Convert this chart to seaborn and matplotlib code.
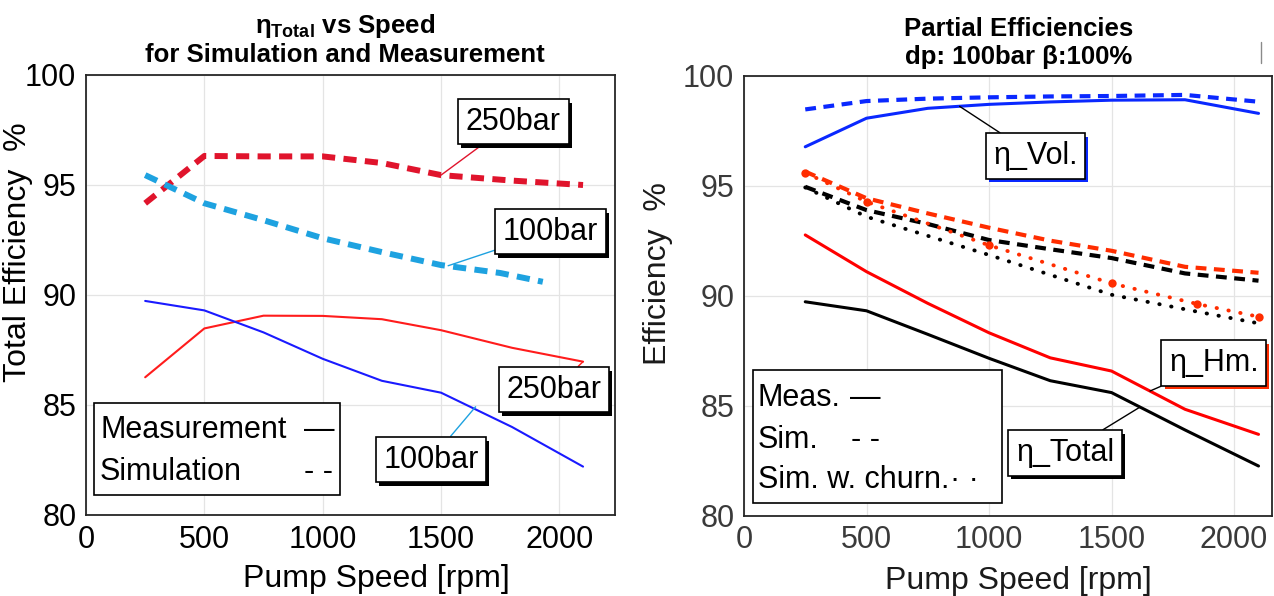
import matplotlib
matplotlib.use("Agg")
import matplotlib.pyplot as plt
import matplotlib.patheffects as pe
from matplotlib.patches import Rectangle
from matplotlib.lines import Line2D
import seaborn as sns

# ---------------- data ----------------
speed_meas = [250, 500, 750, 1000, 1250, 1500, 1800, 2100]
eta_meas_100 = [89.73, 89.30, 88.30, 87.10, 86.10, 85.56, 84.00, 82.20]
eta_meas_250 = [86.26, 88.48, 89.06, 89.05, 88.90, 88.40, 87.60, 86.97]
speed_sim_250 = [250, 500, 750, 1000, 1250, 1500, 1800, 2100]
eta_sim_250 = [94.17, 96.32, 96.30, 96.30, 96.00, 95.45, 95.20, 95.00]
speed_sim_100 = [250, 500, 750, 1000, 1250, 1500, 1750, 1930]
eta_sim_100 = [95.45, 94.17, 93.40, 92.58, 91.95, 91.36, 91.00, 90.60]

speed_part = [250, 500, 750, 1000, 1250, 1500, 1800, 2100]
vol_meas = [96.78, 98.08, 98.53, 98.71, 98.82, 98.90, 98.92, 98.30]
vol_sim = [98.48, 98.86, 98.97, 99.03, 99.07, 99.09, 99.14, 98.83]
hm_meas = [92.77, 91.10, 89.66, 88.32, 87.18, 86.58, 84.84, 83.70]
hm_sim = [95.65, 94.44, 93.75, 93.10, 92.51, 92.05, 91.32, 91.05]
total_meas = [89.73, 89.32, 88.25, 87.16, 86.14, 85.60, 83.90, 82.26]
total_sim = [94.96, 93.90, 93.27, 92.54, 92.12, 91.72, 91.02, 90.69]
speed_churn = [250, 500, 1000, 1500, 1850, 2100]
hm_churn = [95.60, 94.28, 92.30, 90.57, 89.63, 89.05]
total_churn = [94.93, 93.60, 91.86, 90.05, 89.28, 88.75]

x_ticks = [0, 500, 1000, 1500, 2000]
y_ticks = [80, 85, 90, 95, 100]

# ---------------- style ----------------
sns.set_theme(style="whitegrid")
plt.rcParams["font.family"] = ["Liberation Sans", "DejaVu Sans"]
plt.rcParams["mathtext.fontset"] = "custom"
plt.rcParams["mathtext.rm"] = "Liberation Sans:bold"
plt.rcParams["mathtext.bf"] = "Liberation Sans:bold"
plt.rcParams["mathtext.it"] = "Liberation Sans:bold"

fig = plt.figure(figsize=(12.74, 5.96), dpi=100)
axL = fig.add_axes([86 / 1274, 1 - 515 / 596, 529 / 1274, 440 / 596])
axR = fig.add_axes([744 / 1274, 1 - 515.7 / 596, 528 / 1274, 439.7 / 596])

TICK_FS = 22
LAB_FS = 23
TITLE_FS = 18.5


def style_axes(ax, xmax, tickcolor):
    ax.set_xlim(0, xmax)
    ax.set_ylim(80, 100)
    ax.set_xticks(x_ticks)
    ax.set_yticks(y_ticks)
    ax.grid(True, color="#e4e4e4", lw=0.9)
    ax.tick_params(length=0, labelsize=TICK_FS, colors=tickcolor, pad=7)
    for s in ax.spines.values():
        s.set_visible(True)
        s.set_color("#262626")
        s.set_linewidth(1.3)
    ax.set_facecolor("white")


# ---------------- left panel ----------------
dash_thick = (0, (2.2, 1.4))
sns.lineplot(x=speed_sim_250, y=eta_sim_250, ax=axL, color="#e0142c", lw=4.3,
             linestyle=dash_thick, dash_capstyle="butt")
sns.lineplot(x=speed_sim_100, y=eta_sim_100, ax=axL, color="#1ea2e0", lw=4.3,
             linestyle=dash_thick, dash_capstyle="butt")
sns.lineplot(x=speed_meas, y=eta_meas_250, ax=axL, color="#ff1c1c", lw=1.5)
sns.lineplot(x=speed_meas, y=eta_meas_100, ax=axL, color="#1a1aff", lw=1.5)
style_axes(axL, 2235, "black")

axL.set_title(r"$\mathrm{η}_{\mathrm{Total}}$ vs Speed" + "\nfor Simulation and Measurement",
              fontsize=TITLE_FS, fontweight="bold", x=0.49, pad=9, linespacing=1.2,
              color="black")
axL.set_xlabel("Pump Speed [rpm]", fontsize=LAB_FS, color="black")
axL.set_ylabel("Total Efficiency  %", fontsize=LAB_FS, color="black")
axL.xaxis.set_label_coords(0.548, -0.112)
axL.yaxis.set_label_coords(-0.10, 0.598)


def boxed(ax, label, xy, xytext, linecolor, shadow):
    t = ax.annotate(label, xy=xy, xycoords="data", xytext=xytext,
                    textcoords="axes fraction", ha="center", va="center",
                    fontsize=22, color="black", zorder=8,
                    bbox=dict(boxstyle="square,pad=0.25", fc="white", ec="black", lw=1.2),
                    arrowprops=dict(arrowstyle="-", color=linecolor, lw=1.0,
                                    shrinkA=0, shrinkB=0))
    t.get_bbox_patch().set_path_effects([
        pe.SimplePatchShadow(offset=(2.2, -2.6), shadow_rgbFace=shadow, alpha=1.0),
        pe.Normal()])
    return t


boxed(axL, "250bar", (1500, 95.45), (0.808, 0.894), "#e0142c", "black")
boxed(axL, "100bar", (1530, 91.33), (0.878, 0.644), "#1ea2e0", "black")
boxed(axL, "250bar", (2100, 86.97), (0.885, 0.285), "#ff1c1c", "black")
boxed(axL, "100bar", (1646, 84.92), (0.652, 0.126), "#1ea2e0", "black")

# legend-like box (left)
axL.add_patch(Rectangle((0.015, 0.045), 0.465, 0.2095, transform=axL.transAxes,
                        fc="white", ec="black", lw=1.2, zorder=7))
for txt, hx, hy, h in [("Measurement", 0.412, 0.193, "—"), ("Simulation", 0.412, 0.098, "- -")]:
    axL.text(0.0265, hy, txt, transform=axL.transAxes, fontsize=22, va="center",
             ha="left", zorder=9, color="black")
    axL.text(hx, hy, h, transform=axL.transAxes, fontsize=22, va="center",
             ha="left", zorder=9, color="black")

# ---------------- right panel ----------------
dash_med = (0, (2.6, 1.8))
dot = (0, (0.1, 3.0))
sns.lineplot(x=speed_part, y=vol_sim, ax=axR, color="#0a28ff", lw=3.0,
             linestyle=dash_med, dash_capstyle="butt")
sns.lineplot(x=speed_part, y=vol_meas, ax=axR, color="#0a28ff", lw=2.2)
sns.lineplot(x=speed_part, y=hm_sim, ax=axR, color="#ff2d00", lw=3.0,
             linestyle=dash_med, dash_capstyle="butt")
sns.lineplot(x=speed_part, y=total_sim, ax=axR, color="black", lw=3.0,
             linestyle=dash_med, dash_capstyle="butt")
sns.lineplot(x=speed_churn, y=hm_churn, ax=axR, color="#ff2d00", lw=2.8,
             linestyle=dot, dash_capstyle="round", marker="o", markersize=6,
             markeredgewidth=0)
sns.lineplot(x=speed_churn, y=total_churn, ax=axR, color="black", lw=2.8,
             linestyle=dot, dash_capstyle="round")
sns.lineplot(x=speed_part, y=hm_meas, ax=axR, color="#ff0000", lw=2.2)
sns.lineplot(x=speed_part, y=total_meas, ax=axR, color="black", lw=2.2)
style_axes(axR, 2155, "#3a3a3a")

axR.set_title("Partial Efficiencies\ndp: 100bar β:100%", fontsize=TITLE_FS,
              fontweight="bold", x=0.52, pad=9, linespacing=1.2, color="black")
axR.set_xlabel("Pump Speed [rpm]", fontsize=LAB_FS, color="#1a1a1a")
axR.set_ylabel("Efficiency  %", fontsize=LAB_FS, color="#1a1a1a")
axR.xaxis.set_label_coords(0.519, -0.115)
axR.yaxis.set_label_coords(-0.134, 0.55)

boxed(axR, "η_Vol.", (880, 98.62), (0.552, 0.818), "black", "#0a28ff")
boxed(axR, "η_Hm.", (1657, 85.67), (0.89, 0.347), "black", "#ff2d00")
boxed(axR, "η_Total", (1616, 84.94), (0.608, 0.1426), "black", "black")

axR.add_patch(Rectangle((0.0165, 0.028), 0.4715, 0.303, transform=axR.transAxes,
                        fc="white", ec="black", lw=1.2, zorder=7))
for txt, hx, hy, h in [("Meas.", 0.200, 0.268, "—"), ("Sim.", 0.203, 0.172, "- -"),
                       ("Sim. w. churn.", 0.39, 0.081, "· ·")]:
    axR.text(0.0265, hy, txt, transform=axR.transAxes, fontsize=22, va="center",
             ha="left", zorder=9, color="black")
    axR.text(hx, hy, h, transform=axR.transAxes, fontsize=22, va="center",
             ha="left", zorder=9, color="black")

# small stray frame fragment at top right of reference
fig.add_artist(Line2D([1261 / 1274, 1261 / 1274], [1 - 42 / 596, 1 - 63 / 596],
                      color="#8a8a8a", lw=1.0))

fig.savefig("out.png", dpi=100, facecolor="white")
